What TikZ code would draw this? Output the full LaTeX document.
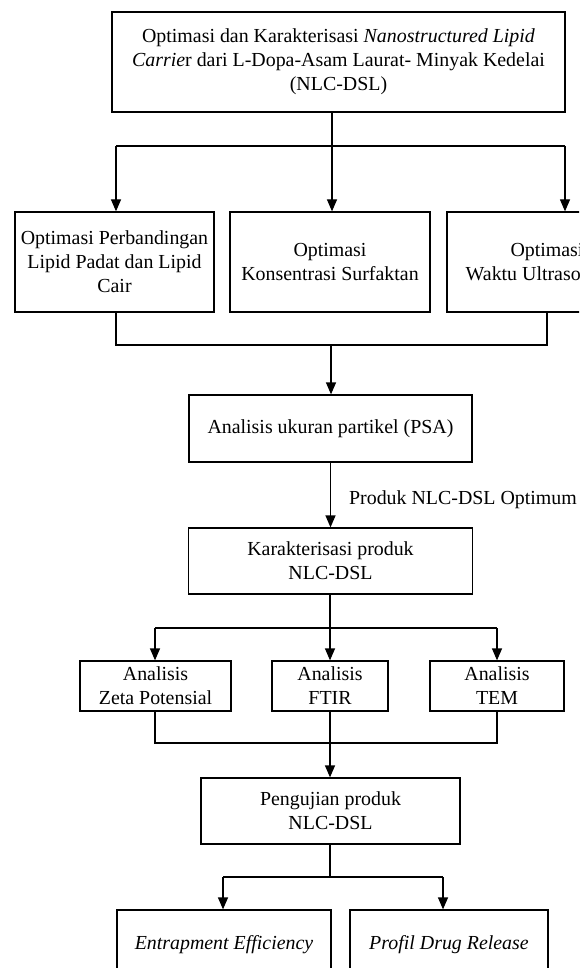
\documentclass[tikz,border=0pt]{standalone}
\usepackage{fontspec}
\setmainfont{Liberation Serif}
\usetikzlibrary{arrows.meta}
\newcommand\bodyfont{\fontsize{19.9}{24}\selectfont}
\tikzset{
  box/.style={draw, line width=1.25pt, inner sep=0pt, align=center, font=\bodyfont},
  ln/.style={line width=1.25pt},
  arr/.style={line width=1.25pt, -{Triangle[width=10pt,length=12pt]}},
  lbl/.style={font=\bodyfont, inner sep=0pt}
}
\begin{document}
\begin{tikzpicture}[x=1pt,y=-1pt]
\useasboundingbox (0,0) rectangle (579,968);
\clip (0,0) rectangle (579,968);
% nodes
\node[box, minimum width=453, minimum height=100] (top) at (338.5,62)
  {Optimasi dan Karakterisasi \textit{Nanostructured Lipid}\\
   \textit{Carrie}r dari L-Dopa-Asam Laurat- Minyak Kedelai\\
   (NLC-DSL)};
\node[box, minimum width=199, minimum height=100] (b1) at (114.5,262)
  {Optimasi Perbandingan\\Lipid Padat dan Lipid\\Cair};
\node[box, minimum width=200, minimum height=100] (b2) at (330,262)
  {Optimasi\\Konsentrasi Surfaktan};
\node[box, minimum width=200, minimum height=100] (b3) at (547,262)
  {Optimasi\\Waktu Ultrasonikasi};
\node[box, minimum width=283, minimum height=67] (psa) at (330.5,428.5)
  {Analisis ukuran partikel (PSA)};
\node[box, minimum width=284, minimum height=66] (kar) at (330.5,561)
  {Karakterisasi produk\\NLC-DSL};
\node[box, minimum width=151, minimum height=50] (zeta) at (155.5,686)
  {Analisis\\Zeta Potensial};
\node[box, minimum width=116, minimum height=50] (ftir) at (330,686)
  {Analisis\\FTIR};
\node[box, minimum width=134, minimum height=50] (tem) at (497,686)
  {Analisis\\TEM};
\node[box, minimum width=259, minimum height=66] (uji) at (330.5,811)
  {Pengujian produk\\NLC-DSL};
\node[box, minimum width=214, minimum height=70] (ee) at (224,945)
  {\textit{Entrapment Efficiency}};
\node[box, minimum width=198, minimum height=70] (pdr) at (449,945)
  {\textit{Profil Drug Release}};
% connectors: top to optimisation boxes
\coordinate (s0) at (332,146);
\coordinate (hL) at (116,146);
\coordinate (hR) at (565,146);
\draw[ln] (top.south -| s0) -- (s0);
\draw[ln] (hL) -- (hR);
\draw[arr] (hL) -- (hL |- b1.north);
\draw[arr] (s0) -- (s0 |- b2.north);
\draw[arr] (hR) -- (hR |- b3.north);
% join to PSA
\coordinate (jL) at (116,345);
\coordinate (jR) at (547,345);
\coordinate (jM) at (331,345);
\draw[ln] (b1.south -| jL) -- (jL) -- (jR) -- (b3.south -| jR);
\draw[arr] (jM) -- (psa.north -| jM);
% PSA to karakterisasi
\draw[arr] (psa.south) -- (kar.north)
  node[lbl, pos=0.58, anchor=west, xshift=18pt] (lab) {Produk NLC-DSL Optimum};
% karakterisasi to analyses
\coordinate (k0) at (330,628);
\coordinate (kL) at (155,628);
\coordinate (kR) at (497,628);
\draw[ln] (kar.south -| k0) -- (k0);
\draw[ln] (kL) -- (kR);
\draw[arr] (kL) -- (kL |- zeta.north);
\draw[arr] (k0) -- (k0 |- ftir.north);
\draw[arr] (kR) -- (kR |- tem.north);
% join to pengujian
\coordinate (gL) at (155,743);
\coordinate (gR) at (497,743);
\draw[ln] (zeta.south -| gL) -- (gL) -- (gR) -- (tem.south -| gR);
\draw[arr] (ftir.south) -- (ftir.south |- uji.north);
% pengujian to tests
\coordinate (u0) at (330,877);
\coordinate (uL) at (223,877);
\coordinate (uR) at (443,877);
\draw[ln] (uji.south -| u0) -- (u0);
\draw[ln] (uL) -- (uR);
\draw[arr] (uL) -- (uL |- ee.north);
\draw[arr] (uR) -- (uR |- pdr.north);
\end{tikzpicture}
\end{document}
